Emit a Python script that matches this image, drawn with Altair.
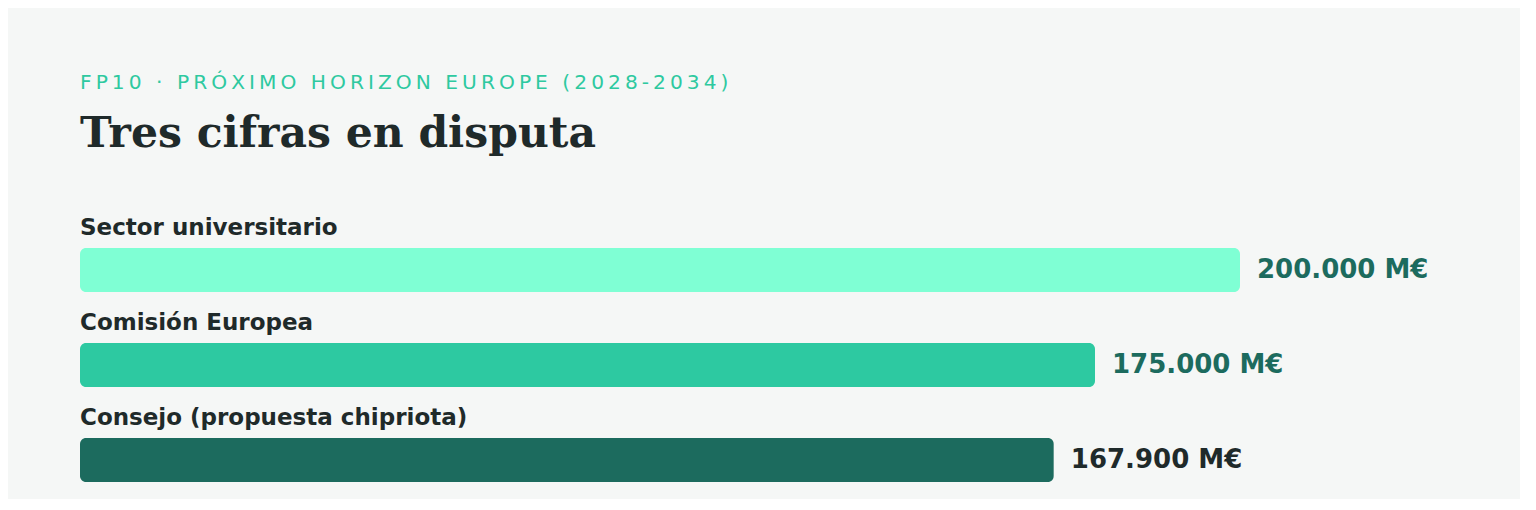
import altair as alt
import pandas as pd

categories = ["Sector universitario", "Comisión Europea", "Consejo (propuesta chipriota)"]
values = [200000, 175000, 167900]
value_labels = ["200.000 M€", "175.000 M€", "167.900 M€"]

kicker = "FP10 · PRÓXIMO HORIZON EUROPE (2028-2034)"
headline = "Tres cifras en disputa"

bar_colors = ["#7fffd4", "#2dc9a1", "#1c6b5e"]
BG = "#f5f7f6"
DARK = "#1f2a2a"
TEAL_DARK = "#1c6b5e"

# spaced kicker (letter-spacing imitation with thin spaces)
kicker_spaced = "\u2009".join(list(kicker))

df = pd.DataFrame({"cat": categories, "value": values, "label": value_labels})

y = alt.Y("cat:N", sort=categories, axis=None,
          scale=alt.Scale(domain=categories, range=[0, 285], paddingInner=0, paddingOuter=0))
x = alt.X("value:Q", axis=None, scale=alt.Scale(domain=[0, 200000], nice=False, zero=True))

base = alt.Chart(df)

bars = base.mark_bar(size=44, cornerRadius=6).encode(
    x=x, y=y,
    color=alt.Color("cat:N", scale=alt.Scale(domain=categories, range=bar_colors), legend=None),
)

names = base.mark_text(align="left", baseline="alphabetic", dy=-35,
                       font="DejaVu Sans", fontSize=23, fontWeight="bold", color=DARK).encode(
    x=alt.value(0), y=y, text="cat:N"
)

vals = base.mark_text(align="left", baseline="middle", dx=17, dy=0,
                      font="DejaVu Sans", fontSize=26, fontWeight="bold").encode(
    x=x, y=y, text="label:N",
    color=alt.condition(alt.datum.cat == categories[2], alt.value(DARK), alt.value(TEAL_DARK)),
)

chart = alt.layer(bars, names, vals).properties(
    width=1160, height=270,
    autosize=alt.AutoSizeParams(type="none"),
    padding={"left": 72, "top": 214.5, "right": 280, "bottom": 6},
    background=BG,
    title=alt.TitleParams(
        text=kicker_spaced,
        subtitle=headline,
        anchor="start",
        frame="group",
        baseline="top",
        font="DejaVu Sans", fontSize=20.2, fontWeight="normal", color="#2ec9a0",
        subtitleFont="DejaVu Serif", subtitleFontSize=42.5, subtitleFontWeight="bold",
        subtitleColor=DARK, subtitlePadding=19,
        offset=62,
    ),
).configure_view(stroke=None)

chart.save("out.html", embed_options={"renderer": "svg", "actions": False})
